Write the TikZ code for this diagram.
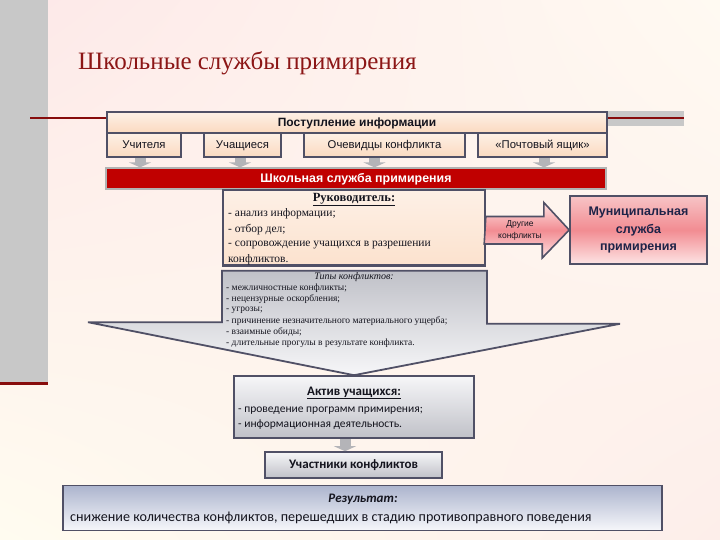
\documentclass[tikz,border=0pt]{standalone}
\usepackage{fontspec}
\setmainfont{Liberation Serif}
\newfontfamily\tahfont{Liberation Sans}
\newfontfamily\calfont{Carlito}
\usetikzlibrary{calc,arrows.meta,shadings}
\definecolor{bgA}{RGB}{253,232,232}
\definecolor{bgB}{RGB}{255,250,242}
\definecolor{bgC}{RGB}{255,252,240}
\definecolor{bgD}{RGB}{253,238,234}
\definecolor{stripgray}{RGB}{200,200,200}
\definecolor{darkred}{RGB}{135,12,12}
\definecolor{titred}{RGB}{140,22,22}
\definecolor{bord}{RGB}{80,80,102}
\definecolor{peachA}{RGB}{253,240,230}
\definecolor{peachB}{RGB}{251,218,192}
\definecolor{barred}{RGB}{192,0,0}
\definecolor{pinkA}{RGB}{247,196,198}
\definecolor{pinkB}{RGB}{242,140,146}
\definecolor{pinkC}{RGB}{253,228,228}
\definecolor{grayA}{RGB}{246,246,248}
\definecolor{grayB}{RGB}{192,193,200}
\definecolor{blueA}{RGB}{172,180,206}
\definecolor{blueB}{RGB}{246,247,251}
\definecolor{navy}{RGB}{30,35,72}
\definecolor{arrgray}{RGB}{180,180,184}
\definecolor{txt}{RGB}{20,20,30}
\begin{document}
\begin{tikzpicture}[x=1pt,y=-1pt,
  box/.style={draw=bord, line width=1.6pt, inner sep=0pt, text=txt},
  peachbox/.style={box, top color=peachA, bottom color=peachB},
  graybox/.style={box, top color=grayA, bottom color=grayB},
  pinkshade/.style={top color=pinkA, bottom color=pinkC, middle color=pinkB},
  smallarr/.style={draw=arrgray, line width=11pt, -{Triangle[length=5pt,width=22pt]}},
  sans/.style={font=\tahfont\fontsize{11.3}{13}\selectfont, text height=8pt, text depth=1pt},
  plain/.style={inner sep=0pt, text=txt}]
\useasboundingbox (0,0) rectangle (720,540);
\shade[upper left=bgA, upper right=bgB, lower left=bgC, lower right=bgD] (0,0) rectangle (720,540);
% left strip and decorative lines
\fill[stripgray] (0,0) rectangle (48,382);
\fill[darkred] (0,382) rectangle (48,385);
\fill[stripgray] (608,111) rectangle (684,126);
\draw[darkred, line width=2.5pt] (30,118) -- (110,118);
\draw[darkred, line width=2.5pt] (604,118) -- (684,118);
% title
\node[anchor=base west, inner sep=0pt, text=titred, font=\fontsize{25}{29}\selectfont] (title) at (78,70) {Школьные службы примирения};
% information sources
\node[peachbox, minimum width=500pt, minimum height=21pt, text height=8.5pt, text depth=1pt, font=\tahfont\bfseries\fontsize{12}{14}\selectfont] (info) at (357,122.5) {Поступление информации};
\node[peachbox, sans, minimum width=74pt, minimum height=24pt] (teach) at (144,145) {Учителя};
\node[peachbox, sans, minimum width=77pt, minimum height=24pt] (pupils) at (242.5,145) {Учащиеся};
\node[peachbox, sans, minimum width=161pt, minimum height=24pt] (witn) at (384.5,145) {Очевидцы конфликта};
\node[peachbox, sans, minimum width=129pt, minimum height=24pt] (mail) at (542.5,145) {«Почтовый ящик»};
% red bar
\node[draw=gray!60, line width=1.2pt, fill=barred, inner sep=0pt, minimum width=500pt, minimum height=21pt, text height=8.5pt, text depth=1pt, text=white, font=\tahfont\bfseries\fontsize{12.4}{14}\selectfont] (ssp) at (356,178.5) {Школьная служба примирения};
% small arrows into the bar
\draw[smallarr] ([xshift=-4pt]teach.south) -- ([xshift=-4pt]teach.south |- ssp.north);
\draw[smallarr] ([xshift=-2.5pt]pupils.south) -- ([xshift=-2.5pt]pupils.south |- ssp.north);
\draw[smallarr] ([xshift=-10pt]witn.south) -- ([xshift=-10pt]witn.south |- ssp.north);
\draw[smallarr] ([xshift=1.5pt]mail.south) -- ([xshift=1.5pt]mail.south |- ssp.north);
% head box
\node[box, top color=peachA, bottom color={rgb,255:red,252;green,226;blue,206}, minimum width=262pt, minimum height=75pt] (ruk) at (354,227.5) {};
\node[plain, font=\bfseries\fontsize{12.5}{14}\selectfont] (rukt) at (354,199.5) {\underline{Руководитель:}};
\node[plain, anchor=west, font=\fontsize{11.5}{14}\selectfont] (r1) at (228,214) {- анализ информации;};
\node[plain, anchor=west, font=\fontsize{11.5}{14}\selectfont] (r2) at (228,230) {- отбор дел;};
\node[plain, anchor=west, font=\fontsize{11.5}{14}\selectfont] (r3) at (228,245.5) {- сопровождение учащихся в разрешении};
\node[plain, anchor=west, font=\fontsize{11.5}{14}\selectfont] (r4) at (228,260) {конфликтов.};
\draw[bord, line width=1.6pt] (ruk.south west) -- (ruk.south east);
% municipal service
\node[box, pinkshade, minimum width=137pt, minimum height=68pt, text=navy, align=center, font=\tahfont\bfseries\fontsize{12.5}{17.5}\selectfont] (mun) at (638.5,230) {Муниципальная\\служба\\примирения};
% other conflicts arrow
\draw[bord, line width=1.6pt, top color=pinkC, bottom color=pinkC, middle color=pinkB]
  (ruk.east) ++(0,-11) -- ++(58,0) -- ++(0,-14) -- (mun.west) -- ++(-27,28) -- ++(0,-14) -- ++(-58,0) -- cycle;
\node[plain, align=center, font=\tahfont\fontsize{8.5}{12}\selectfont] (oth) at (520,230.5) {Другие\\конфликты};
% active pupils
\node[graybox, minimum width=240pt, minimum height=62pt] (akt) at (354,407) {};
% big arrow of conflict types
\draw[bord, line width=1.8pt, top color=grayB, bottom color=grayA]
  ($(ruk.south)+(-132,5)$) -- ++(265,0) -- ++(0,53) -- ++(133,0) -- (akt.north) -- ++(-266,-53) -- ++(134,0) -- cycle;
\node[plain, font=\itshape\fontsize{10}{12}\selectfont] (tt) at (354,277.5) {Типы конфликтов:};
\node[plain, anchor=west, font=\fontsize{9.5}{11}\selectfont] (t1) at (226,288.5) {- межличностные конфликты;};
\node[plain, anchor=west, font=\fontsize{9.5}{11}\selectfont] (t2) at (226,299.5) {- нецензурные оскорбления;};
\node[plain, anchor=west, font=\fontsize{9.5}{11}\selectfont] (t3) at (226,310.5) {- угрозы;};
\node[plain, anchor=west, font=\fontsize{9.5}{11}\selectfont] (t4) at (226,321.5) {- причинение незначительного материального ущерба;};
\node[plain, anchor=west, font=\fontsize{9.5}{11}\selectfont] (t5) at (226,332.5) {- взаимные обиды;};
\node[plain, anchor=west, font=\fontsize{9.5}{11}\selectfont] (t6) at (226,343.5) {- длительные прогулы в результате конфликта.};
% active pupils text
\node[plain, font=\calfont\bfseries\fontsize{13}{15}\selectfont] (akt0) at (354,393) {\underline{Актив учащихся:}};
\node[plain, anchor=west, font=\calfont\fontsize{11.5}{14}\selectfont] (akt1) at (238,411) {- проведение программ примирения;};
\node[plain, anchor=west, font=\calfont\fontsize{11.5}{14}\selectfont] (akt2) at (238,425) {- информационная деятельность.};
% participants
\node[graybox, minimum width=177pt, minimum height=26pt, font=\calfont\bfseries\fontsize{13}{15}\selectfont] (part) at (353.5,465) {Участники конфликтов};
\draw[smallarr] ([xshift=-9pt]akt.south) -- ([xshift=-9pt]akt.south |- part.north);
% result
\node[box, top color=blueA, bottom color=blueB, minimum width=599pt, minimum height=45pt] (res) at (362.5,508) {};
\node[plain, font=\calfont\bfseries\itshape\fontsize{13}{15}\selectfont] (res0) at (363,499) {Результат:};
\node[plain, anchor=west, font=\calfont\fontsize{14.1}{16}\selectfont] (res1) at (70,518) {снижение количества конфликтов, перешедших в стадию противоправного поведения};
\end{tikzpicture}
\end{document}
